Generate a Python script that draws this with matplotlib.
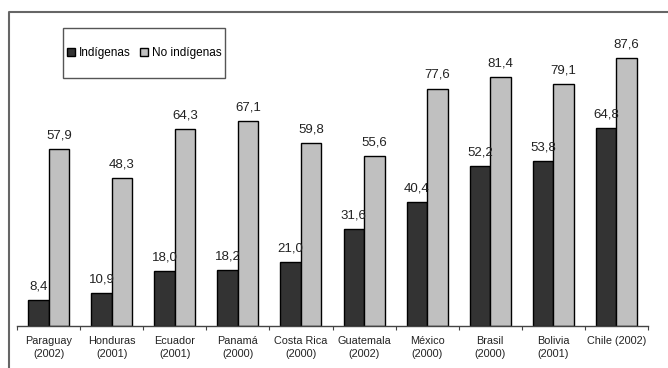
import matplotlib
matplotlib.use("Agg")
import matplotlib.pyplot as plt
from matplotlib.patches import Rectangle, Patch
from matplotlib.lines import Line2D
import numpy as np

plt.rcParams['font.family'] = ['Liberation Sans', 'DejaVu Sans']

paises = ["Paraguay\n(2002)", "Honduras\n(2001)", "Ecuador\n(2001)", "Panamá\n(2000)",
          "Costa Rica\n(2000)", "Guatemala\n(2002)", "México\n(2000)", "Brasil\n(2000)",
          "Bolivia\n(2001)", "Chile (2002)"]
indigenas = [8.4, 10.9, 18.0, 18.2, 21.0, 31.6, 40.4, 52.2, 53.8, 64.8]
no_indigenas = [57.9, 48.3, 64.3, 67.1, 59.8, 55.6, 77.6, 81.4, 79.1, 87.6]

W, H = 668, 368
fig = plt.figure(figsize=(W / 100, H / 100), dpi=100)
ax = fig.add_axes([17 / W, 42 / H, (648 - 17) / W, 306 / H])

x = np.arange(len(paises)) + 0.5
w = 0.325
dark, light = "#333333", "#c0c0c0"
b1 = ax.bar(x - w / 2, indigenas, w, color=dark, edgecolor="black", linewidth=1)
b2 = ax.bar(x + w / 2, no_indigenas, w, color=light, edgecolor="black", linewidth=1)

for bars, vals in ((b1, indigenas), (b2, no_indigenas)):
    for r, v in zip(bars, vals):
        ax.annotate(f"{v:.1f}".replace(".", ","), (r.get_x() + r.get_width() / 2, v),
                    xytext=(0, 5.5), textcoords="offset points", ha="center", va="bottom",
                    fontsize=9.5, color="#222222")

ax.set_xlim(0, len(paises))
ax.set_ylim(0, 100)
for s in ("top", "right", "left"):
    ax.spines[s].set_visible(False)
ax.spines["bottom"].set_color("#444444")
ax.spines["bottom"].set_linewidth(1)
ax.set_yticks([])
ax.set_xticks(np.arange(len(paises) + 1))
ax.set_xticklabels([])
ax.tick_params(axis="x", which="major", length=3, color="#444444")
ax.set_xticks(x, minor=True)
ax.set_xticklabels(paises, minor=True, fontsize=7.8, color="#222222", linespacing=1.45)
ax.tick_params(axis="x", which="minor", length=0, pad=7)

# outer frame (top and left edges)
fig.add_artist(Line2D([9 / W, 9 / W, 1], [0, 1 - 12 / H, 1 - 12 / H],
                      transform=fig.transFigure, color="#666666", linewidth=1.5))

# legend box
fig.add_artist(Rectangle((63 / W, 1 - 78 / H), (225 - 63) / W, 50 / H,
                         transform=fig.transFigure, fill=False,
                         edgecolor="#555555", linewidth=1))
handles = [Patch(facecolor=dark, edgecolor="black", label="Indígenas"),
           Patch(facecolor=light, edgecolor="black", label="No indígenas")]
fig.legend(handles=handles, loc="center", bbox_to_anchor=(144 / W, 1 - 53 / H),
           ncol=2, frameon=False, fontsize=8.5, handlelength=0.7, handleheight=0.7,
           handletextpad=0.3, columnspacing=0.8)

fig.savefig("out.png", dpi=100)
